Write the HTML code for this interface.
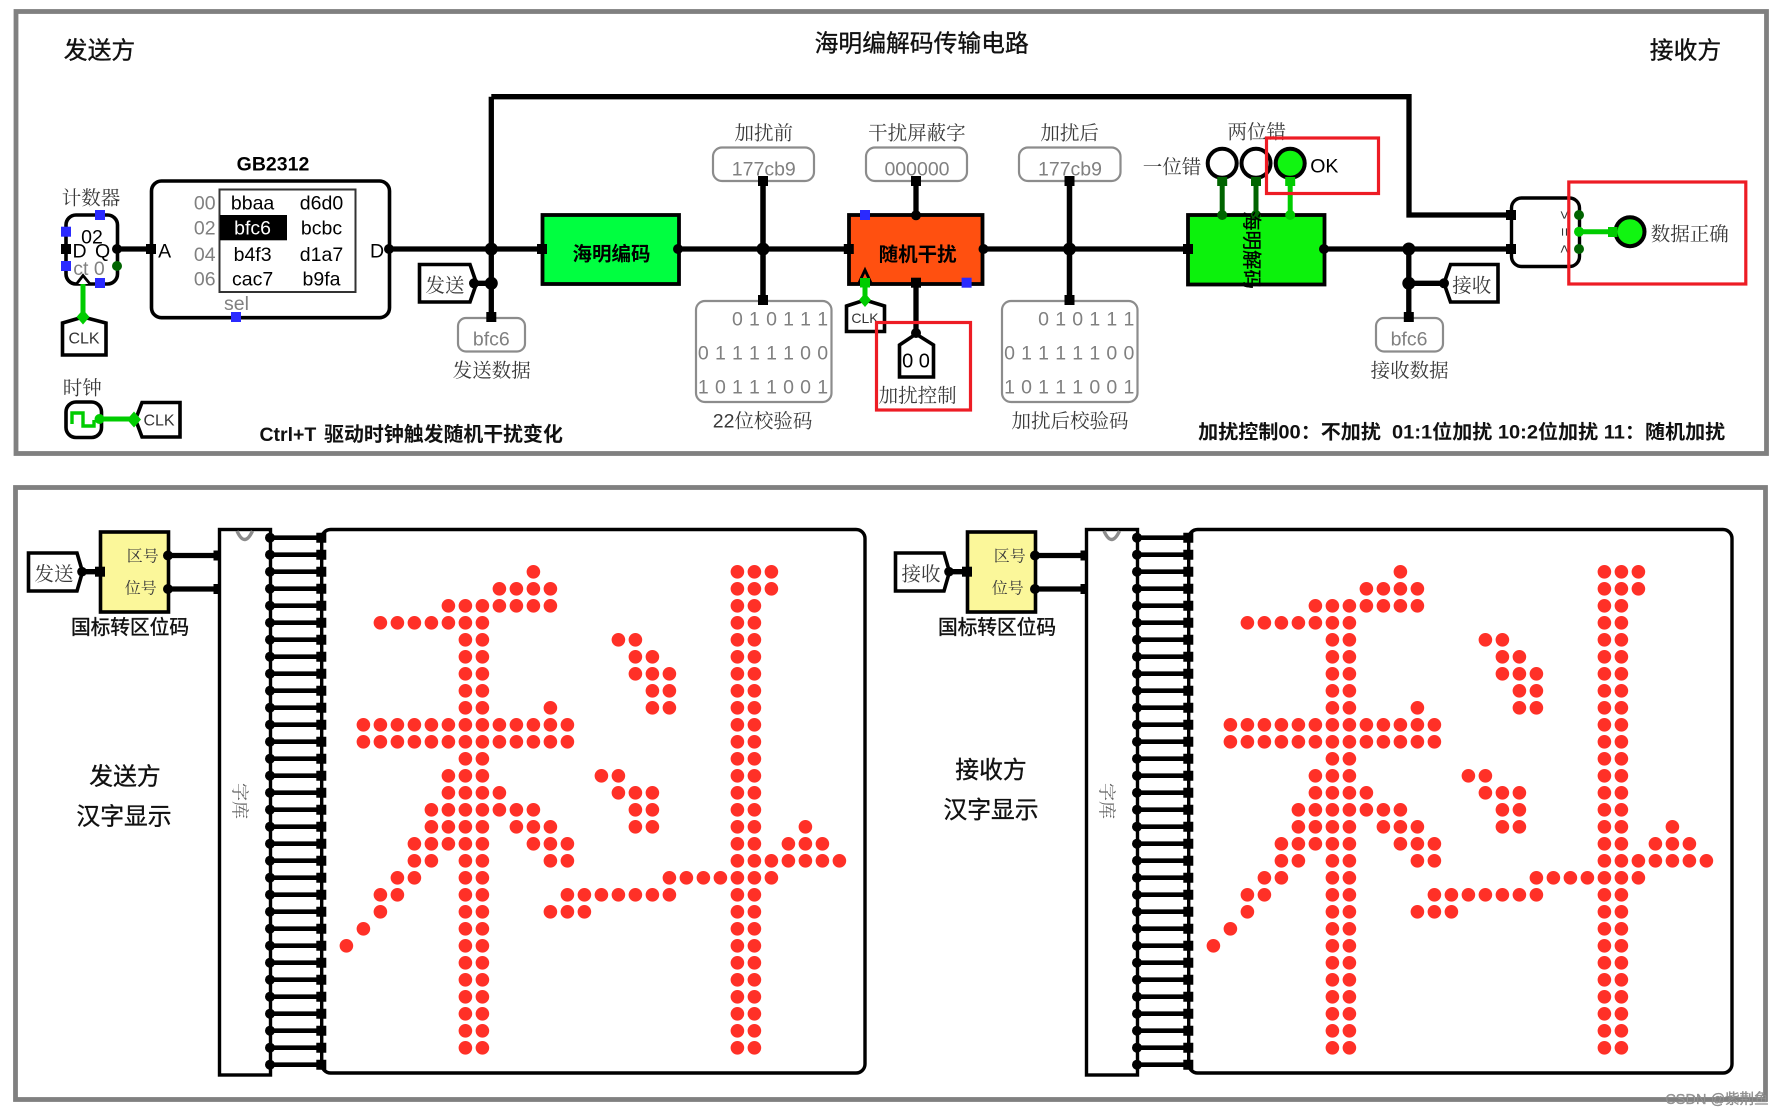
<!DOCTYPE html>
<html lang="zh">
<head>
<meta charset="utf-8">
<title>海明编解码传输电路</title>
<style>
html,body{margin:0;padding:0;background:#fff}
svg{display:block;filter:blur(.35px)}
text{font-family:"Liberation Sans","Noto Sans CJK SC",sans-serif;text-anchor:middle;dominant-baseline:central;fill:#000;font-size:19.5px}
text:not([transform]){transform:translateY(1px)}
.l{font-family:"Liberation Sans","Noto Serif CJK SC",serif;fill:#3a3a3a}
.h{font-family:"Liberation Sans","Noto Sans CJK SC",sans-serif;font-size:23.8px;fill:#111;stroke:#111;stroke-width:.35px}
.b{font-weight:bold;font-family:"Liberation Sans","Noto Sans CJK SC",sans-serif;fill:#111}
.g{fill:#808080}
.ck{fill:#333;font-size:16px}
.w{stroke:#000;stroke-width:5.3;fill:none}
.s{stroke:#000;stroke-width:3.6;fill:#fff;stroke-linejoin:miter}
.v{stroke:#8c8c8c;stroke-width:2.2;fill:#fff}
.r{stroke:#ed1c24;stroke-width:3.2;fill:none}
.gw{stroke:#00cc00;stroke-width:5;fill:none}
.dw{stroke:#006400;stroke-width:5;fill:none}
</style>
</head>
<body>
<svg xmlns="http://www.w3.org/2000/svg" width="1782" height="1116" viewBox="0 0 1782 1116">
<rect width="1782" height="1116" fill="#fff"/>
<defs>
<g id="bp">
  <path class="s" d="M28.5 553H77L82.5 571.7 77 591H28.5Z"/>
  <path class="w" d="M82 571.7H100M168 555.5H220M168 589H220"/>
  <rect x="100.5" y="532" width="68" height="80" fill="#fbf79a" stroke="#000" stroke-width="3.6"/>
  <circle cx="82" cy="571.7" r="4.8"/>
  <rect x="95" y="566.7" width="10" height="10"/>
  <circle cx="168" cy="555.5" r="5"/><circle cx="168" cy="589" r="5"/>
  <rect x="213.5" y="550.5" width="10.5" height="10"/><rect x="213.5" y="584" width="10.5" height="10"/>
  <rect x="219.5" y="529.5" width="51" height="545.5" fill="#fff" stroke="#000" stroke-width="3.4"/>
  <path d="M237 531Q244.5 548 252.5 531" fill="none" stroke="#8c8c8c" stroke-width="3.4"/>
  <rect x="321.7" y="529.5" width="543.3" height="543.5" rx="9" fill="#fff" stroke="#000" stroke-width="3.4"/>
  <path d="M295.5 535.35V1067.05" stroke="#000" stroke-width="51" stroke-dasharray="4.7 12.3" fill="none"/>
  <path d="M270 537.7V1064.8" stroke="#000" stroke-width="10" stroke-linecap="round" stroke-dasharray="0 17" fill="none"/>
  <path d="M321.3 532.7V1069.7" stroke="#000" stroke-width="10" stroke-dasharray="10 7" fill="none"/>
  <g transform="translate(346.4 571.8) scale(17)">
    <path fill="none" stroke="#ff3027" stroke-width=".8" stroke-linecap="round" stroke-dasharray="0 1" d="M7 2V28.01M8 2V28.01M23 0V28.01M24 0V28.01M11 0H11.01M25 0H25.01M9 1H12.01M25 1H25.01M6 2H12.01M2 3H8.01M16 4H17.01M17 5H18.01M17 6H19.01M18 7H19.01M12 8H12.01M18 8H19.01M1 9H13.01M1 10H13.01M6 12H8.01M15 12H16.01M6 13H9.01M16 13H18.01M5 14H11.01M17 14H18.01M5 15H8.01M10 15H12.01M17 15H18.01M27 15H27.01M4 16H8.01M11 16H13.01M26 16H28.01M4 17H5.01M12 17H13.01M25 17H29.01M3 18H4.01M19 18H25.01M2 19H3.01M13 19H19.01M2 20H2.01M12 20H14.01M1 21H1.01M0 22H0.01"/>
  </g>
</g>
</defs>

<!-- panels -->
<rect x="16" y="11.5" width="1750.5" height="442" fill="#fff" stroke="#808080" stroke-width="4.8"/>
<rect x="15.5" y="487.5" width="1750" height="612" fill="#fff" stroke="#808080" stroke-width="4.8"/>

<!-- TOP wires -->
<path class="w" d="M117 249H151M389 249H1511M491.3 96.7V317M491.3 96.7H1409V215H1511M474 283.3H491M763 181V300M916 181V215M916 283V333M1069.5 181V300M1408.8 249V317M1408.8 283.3H1444"/>

<text class="h" x="99.5" y="50">发送方</text>
<text class="h" x="921.7" y="43">海明编解码传输电路</text>
<text class="h" x="1685.5" y="50">接收方</text>

<!-- counter -->
<text class="l" x="91" y="197.3">计数器</text>
<rect class="s" x="66" y="215" width="51.5" height="69" rx="10"/>
<text x="92" y="236.5">02</text>
<text x="79.6" y="250.7">D</text>
<text x="102.6" y="250.7">Q</text>
<text class="g" x="89" y="268">ct 0</text>
<path class="gw" d="M83 283V317"/>
<path d="M76.5 284L83 275.5 90 284" fill="#fff" stroke="#000" stroke-width="2.8"/>
<g fill="#2a2aff">
<rect x="95" y="210" width="10" height="10"/><rect x="61" y="226.7" width="10" height="10"/>
<rect x="61" y="261" width="10" height="10"/><rect x="95" y="278" width="10" height="10"/></g>
<rect x="61" y="244" width="10" height="10"/>
<circle cx="117" cy="249" r="5"/><circle cx="117" cy="266" r="5" fill="#006400"/>
<path class="s" d="M62.5 323L83 317 106 323V355H62.5Z"/>
<path d="M83 309.5L89.500 317 83 324.5 76.5 317Z" fill="#00cc00"/>
<text class="ck" x="84" y="338">CLK</text>

<!-- GB2312 -->
<text class="b" x="273" y="163.3" style="fill:#000">GB2312</text>
<rect class="s" x="151.5" y="181" width="238" height="136.7" rx="10"/>
<rect x="146" y="244" width="10" height="10"/>
<circle cx="389" cy="249" r="5"/>
<text x="164.6" y="250.7">A</text>
<text x="377" y="250.7">D</text>
<text class="g" x="204.7" y="202.7">00</text><text class="g" x="204.7" y="227.7">02</text><text class="g" x="204.7" y="254">04</text><text class="g" x="204.7" y="278.7">06</text>
<rect x="219.5" y="189.5" width="136" height="102.5" fill="#fff" stroke="#333" stroke-width="2"/>
<rect x="220" y="215" width="67" height="25.3" fill="#000"/>
<text x="252.6" y="202.7">bbaa</text><text x="321.5" y="202.7">d6d0</text>
<text x="252.6" y="227.7" style="fill:#fff">bfc6</text><text x="321.5" y="227.7">bcbc</text>
<text x="252.6" y="254">b4f3</text><text x="321.5" y="254">d1a7</text>
<text x="252.6" y="278.7">cac7</text><text x="321.5" y="278.7">b9fa</text>
<text class="g" x="236.5" y="303">sel</text>
<rect x="231" y="312" width="10" height="10" fill="#2a2aff"/>

<!-- send tag -->
<path class="s" d="M419.5 264.5H470L476.5 283.3 470 302H419.5Z"/>
<text class="l" x="445" y="285">发送</text>
<circle cx="474" cy="283.3" r="5"/>
<circle cx="491.3" cy="249" r="6.5"/><circle cx="491.3" cy="283.3" r="6.5"/>
<rect class="v" x="458" y="318" width="67" height="33.5" rx="8"/>
<rect x="486.3" y="312" width="10" height="10"/>
<text class="g" x="491.3" y="338.5">bfc6</text>
<text class="l" x="491.8" y="370">发送数据</text>

<!-- clock -->
<text class="l" x="82.3" y="387.3">时钟</text>
<rect class="s" x="66" y="402" width="35.5" height="35.5" rx="10"/>
<path d="M72 424V413H83V426H94V420" fill="none" stroke="#00cc00" stroke-width="3.4"/>
<path class="gw" d="M99.5 419H134"/>
<circle cx="99.5" cy="419" r="5" fill="#00cc00"/>
<path class="s" d="M142 402.5H180V437H142L135.5 419.5Z"/>
<path d="M134 411.5L141 419.5 134 427.5 127 419.5Z" fill="#00cc00"/>
<text class="ck" x="159" y="420">CLK</text>

<text class="b" x="287.900" y="434">Ctrl+T</text>
<text class="b" x="443.500" y="434" style="font-size:19.9px">驱动时钟触发随机干扰变化</text>

<!-- encoder -->
<rect x="542.5" y="215" width="136.5" height="69" fill="#00ff40" stroke="#000" stroke-width="3.8"/>
<rect x="537" y="244" width="10" height="10"/><circle cx="678" cy="249" r="5"/>
<text class="b" x="611.5" y="253.5" style="fill:#000">海明编码</text>

<!-- before -->
<text class="l" x="763.8" y="132.3">加扰前</text>
<rect class="v" x="713" y="147.5" width="101" height="33.5" rx="9"/>
<text class="g" x="763.8" y="168.3">177cb9</text>
<rect x="758" y="176" width="10" height="10"/>
<circle cx="763" cy="249" r="6.5"/>
<rect class="v" x="696" y="301" width="135.5" height="101" rx="9"/>
<rect x="758" y="295" width="10" height="10"/>
<path class="w" d="M763 181V297"/>
<text class="g" x="737.4" y="318.3">0</text><text class="g" x="754.4" y="318.3">1</text><text class="g" x="771.5" y="318.3">0</text><text class="g" x="788.5" y="318.3">1</text><text class="g" x="805.5" y="318.3">1</text><text class="g" x="822.7" y="318.3">1</text>
<text class="g" x="703.3" y="352.7">0</text><text class="g" x="720.4" y="352.7">1</text><text class="g" x="737.4" y="352.7">1</text><text class="g" x="754.4" y="352.7">1</text><text class="g" x="771.5" y="352.7">1</text><text class="g" x="788.5" y="352.7">1</text><text class="g" x="805.5" y="352.7">0</text><text class="g" x="822.7" y="352.7">0</text>
<text class="g" x="703.3" y="386.7">1</text><text class="g" x="720.4" y="386.7">0</text><text class="g" x="737.4" y="386.7">1</text><text class="g" x="754.4" y="386.7">1</text><text class="g" x="771.5" y="386.7">1</text><text class="g" x="788.5" y="386.7">0</text><text class="g" x="805.5" y="386.7">0</text><text class="g" x="822.7" y="386.7">1</text>
<text class="l" x="762.6" y="420.7">22位校验码</text>

<!-- mask -->
<text class="l" x="916.9" y="132.3">干扰屏蔽字</text>
<rect class="v" x="866" y="147.5" width="101" height="33.5" rx="9"/>
<text class="g" x="917" y="168.3">000000</text>
<rect x="911" y="176" width="10" height="10"/>
<!-- orange -->
<rect x="849" y="215" width="133.5" height="69" fill="#ff5010" stroke="#000" stroke-width="3.8"/>
<circle cx="916" cy="215.3" r="5"/>
<rect x="843.8" y="244" width="10" height="10"/><circle cx="983.5" cy="249" r="5"/>
<text class="b" x="917.6" y="254" style="fill:#000">随机干扰</text>
<rect x="860" y="210" width="10" height="10" fill="#2a2aff"/>
<rect x="961.6" y="277.7" width="10" height="10" fill="#2a2aff"/>
<path d="M858.5 284L865 270 871.5 284" fill="none" stroke="#000" stroke-width="2.8"/>
<rect x="860" y="278" width="10" height="9.5" fill="#00cc00"/>
<path class="gw" d="M865 285V300"/>
<rect x="911" y="277.7" width="10" height="10"/>
<path class="s" d="M846.5 306L865 300 884.5 306V331.5H846.5Z"/>
<path d="M865 293L871 300 865 307 859 300Z" fill="#00cc00"/>
<text class="ck" style="font-size:14px" x="865" y="317">CLK</text>
<path class="s" d="M899.5 345L916 334 933.5 345V377H899.5Z"/>
<circle cx="916" cy="333" r="5"/>
<text x="916" y="360.7" style="font-size:20px">0 0</text>
<text class="l" x="917.6" y="395">加扰控制</text>
<rect class="r" x="876.5" y="322.5" width="94" height="87.5"/>

<!-- after -->
<text class="l" x="1069.6" y="132.3">加扰后</text>
<rect class="v" x="1019" y="147.5" width="101.5" height="33.5" rx="9"/>
<text class="g" x="1070" y="168.3">177cb9</text>
<rect x="1064.5" y="176" width="10" height="10"/>
<circle cx="1069.5" cy="249" r="6.5"/>
<rect class="v" x="1002" y="301" width="135.5" height="101" rx="9"/>
<path class="w" d="M1069.5 181V297"/>
<rect x="1064.5" y="295" width="10" height="10"/>
<text class="g" x="1043.6" y="318.3">0</text><text class="g" x="1060.7" y="318.3">1</text><text class="g" x="1077.7" y="318.3">0</text><text class="g" x="1094.8" y="318.3">1</text><text class="g" x="1111.8" y="318.3">1</text><text class="g" x="1128.9" y="318.3">1</text>
<text class="g" x="1009.5" y="352.7">0</text><text class="g" x="1026.5" y="352.7">1</text><text class="g" x="1043.6" y="352.7">1</text><text class="g" x="1060.7" y="352.7">1</text><text class="g" x="1077.7" y="352.7">1</text><text class="g" x="1094.8" y="352.7">1</text><text class="g" x="1111.8" y="352.7">0</text><text class="g" x="1128.9" y="352.7">0</text>
<text class="g" x="1009.5" y="386.7">1</text><text class="g" x="1026.5" y="386.7">0</text><text class="g" x="1043.6" y="386.7">1</text><text class="g" x="1060.7" y="386.7">1</text><text class="g" x="1077.7" y="386.7">1</text><text class="g" x="1094.8" y="386.7">0</text><text class="g" x="1111.8" y="386.7">0</text><text class="g" x="1128.9" y="386.7">1</text>
<text class="l" x="1070" y="420.7">加扰后校验码</text>

<!-- decoder -->
<text class="l" x="1172" y="166.7">一位错</text>
<text class="l" x="1256.8" y="131.7">两位错</text>
<path class="dw" d="M1222.2 181V215M1256 181V215"/>
<path class="gw" d="M1290.2 181V215"/>
<rect x="1188" y="215" width="136.5" height="69.5" fill="#0cf20c" stroke="#000" stroke-width="3.8"/>
<rect x="1183" y="244" width="10" height="10"/><circle cx="1324" cy="249" r="5"/>
<circle cx="1222.2" cy="215" r="5" fill="#006400"/><circle cx="1256" cy="215" r="5" fill="#006400"/><circle cx="1290.2" cy="215" r="5" fill="#00cc00"/>
<text class="b" transform="translate(1251 250) rotate(90)" x="0" y="0" style="fill:#000;font-weight:normal;stroke:#000;stroke-width:.3px">海明解码</text>
<circle cx="1222.2" cy="163.3" r="14.5" fill="#fff" stroke="#000" stroke-width="4"/>
<circle cx="1256" cy="163.3" r="14.5" fill="#fff" stroke="#000" stroke-width="4"/>
<circle cx="1290.2" cy="163.3" r="14.5" fill="#11f511" stroke="#000" stroke-width="4"/>
<rect x="1217.2" y="177" width="10" height="9" fill="#006400"/><rect x="1251" y="177" width="10" height="9" fill="#006400"/><rect x="1285.2" y="177" width="10" height="9" fill="#00cc00"/>
<text x="1324.3" y="165.7">OK</text>
<rect class="r" x="1266.5" y="138" width="112" height="55.5"/>

<!-- receive -->
<circle cx="1408.8" cy="249" r="6.5"/><circle cx="1408.8" cy="283.3" r="6.5"/>
<path class="s" d="M1498 264.5H1450.5L1444 283.3 1450.5 302H1498Z"/>
<circle cx="1444" cy="283.3" r="5"/>
<text class="l" x="1471.7" y="285">接收</text>
<rect class="v" x="1376" y="318" width="67" height="33.5" rx="8"/>
<rect x="1403.8" y="312" width="10" height="10"/>
<text class="g" x="1409" y="338.5">bfc6</text>
<text class="l" x="1409.6" y="370">接收数据</text>

<!-- comparator -->
<rect x="1511.5" y="198" width="68" height="68.5" rx="10" fill="#fff" stroke="#000" stroke-width="3.4"/>
<rect x="1506" y="210" width="10" height="10"/><rect x="1506" y="244" width="10" height="10"/>
<text transform="translate(1564 215) rotate(90)" x="0" y="0" style="font-size:15px;fill:#333">&gt;</text>
<text transform="translate(1564 232) rotate(90)" x="0" y="0" style="font-size:15px;fill:#333">=</text>
<text transform="translate(1564 249) rotate(90)" x="0" y="0" style="font-size:15px;fill:#333">&lt;</text>
<path class="gw" d="M1579 231.7H1610"/>
<circle cx="1579" cy="215" r="5" fill="#006400"/><circle cx="1579" cy="231.7" r="5" fill="#00cc00"/><circle cx="1579" cy="249" r="5" fill="#006400"/>
<circle cx="1630" cy="231.7" r="14.5" fill="#11f511" stroke="#000" stroke-width="4"/>
<rect x="1608" y="227" width="9.5" height="10" fill="#00cc00"/>
<text class="l" x="1689.8" y="233.3">数据正确</text>
<rect class="r" x="1568.8" y="182" width="177" height="102"/>

<text class="b" x="1461.7" y="431.7" textLength="527" lengthAdjust="spacingAndGlyphs">加扰控制00：不加扰&#160;&#160;01:1位加扰 10:2位加扰 11：随机加扰</text>

<!-- BOTTOM -->
<use href="#bp"/>
<use href="#bp" x="867"/>

<text class="l" x="54" y="573.5">发送</text>
<text class="l" style="font-size:16px" x="142.7" y="556">区号</text>
<text class="l" style="font-size:16px" x="140.7" y="588">位号</text>
<text x="130" y="627" style="font-size:19.7px;fill:#111;stroke:#111;stroke-width:.4px">国标转区位码</text>
<text class="l" transform="translate(239.5 801) rotate(90)" x="0" y="0" style="font-size:18px;fill:#666">字库</text>
<text class="h" x="125" y="776">发送方</text>
<text class="h" x="124" y="816">汉字显示</text>

<text class="l" x="921" y="573.5">接收</text>
<text class="l" style="font-size:16px" x="1009.7" y="556">区号</text>
<text class="l" style="font-size:16px" x="1007.7" y="588">位号</text>
<text x="997" y="627" style="font-size:19.7px;fill:#111;stroke:#111;stroke-width:.4px">国标转区位码</text>
<text class="l" transform="translate(1106.5 801) rotate(90)" x="0" y="0" style="font-size:18px;fill:#666">字库</text>
<text class="h" x="991" y="769.5">接收方</text>
<text class="h" x="991" y="809.5">汉字显示</text>

<!-- watermark -->
<text x="1717" y="1099" style="font-size:14.5px;fill:#9a9a9a;stroke:#777;stroke-width:.3px">CSDN @紫荆鱼</text>
</svg>
</body>
</html>
